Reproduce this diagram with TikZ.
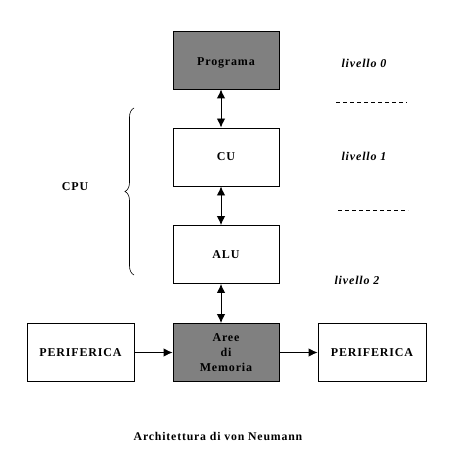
\documentclass[tikz,border=0pt]{standalone}
\usepackage{fontspec}
\setmainfont{Liberation Serif}[LetterSpace=7]
\usetikzlibrary{arrows.meta,decorations.pathreplacing}
\definecolor{boxgray}{HTML}{808080}
\begin{document}
\begin{tikzpicture}[x=1pt,y=-1pt,
  box/.style={draw=black,line width=0.9pt,minimum width=106pt,minimum height=58pt,inner sep=0pt,font=\fontsize{12}{15}\selectfont\bfseries,align=center},
  graybox/.style={box,fill=boxgray},
  boxtext/.style={inner sep=0pt,font=\fontsize{12}{15}\selectfont\bfseries},
  lvl/.style={font=\fontsize{12}{13}\selectfont\bfseries\itshape},
  link/.style={line width=0.9pt,{Latex[length=9pt,width=8.5pt]}-{Latex[length=9pt,width=8.5pt]}},
  onelink/.style={line width=0.9pt,-{Latex[length=9pt,width=8.5pt]}},
  sep/.style={line width=0.7pt,dash pattern=on 4pt off 3pt}]
\useasboundingbox (0,0) rectangle (456,470);
\node[graybox] (prog) at (226,60) {};
\node[boxtext] (progt) at (226,63) {Programa};
\node[box] (cu) at (226,157) {CU};
\node[box] (alu) at (226,254.5) {ALU};
\node[graybox] (mem) at (226,352.5) {Aree\\di\\Memoria};
\node[box,minimum width=107pt] (pl) at (80.5,352.5) {PERIFERICA};
\node[box,minimum width=108pt] (pr) at (372,352.5) {PERIFERICA};
\coordinate (ax) at (221,0);
\draw[link] (prog.south -| ax) -- (cu.north -| ax);
\draw[link] (cu.south -| ax) -- (alu.north -| ax);
\draw[link] (alu.south -| ax) -- (mem.north -| ax);
\draw[onelink] (pl) -- (mem);
\draw[onelink] (mem) -- (pr);
\node[lvl] (l0) at (364,63) {livello 0};
\node[lvl] (l1) at (364,156) {livello 1};
\node[lvl] (l2) at (357,280) {livello 2};
\coordinate (d1a) at (336,102);
\coordinate (d1b) at (407,102);
\coordinate (d2a) at (338,210);
\coordinate (d2b) at (408,210);
\draw[sep] (d1a) -- (d1b);
\draw[sep] (d2a) -- (d2b);
\coordinate (bb) at (134,275);
\coordinate (bt) at (134,108);
\draw[line width=0.6pt,decorate,decoration={brace,amplitude=9pt}] (bb) -- (bt);
\node[font=\fontsize{12}{13}\selectfont\bfseries] (cpu) at (75,187) {CPU};
\node[font=\fontsize{11.8}{13}\selectfont\bfseries] (title) at (218,436) {Architettura di von Neumann};
\end{tikzpicture}
\end{document}
